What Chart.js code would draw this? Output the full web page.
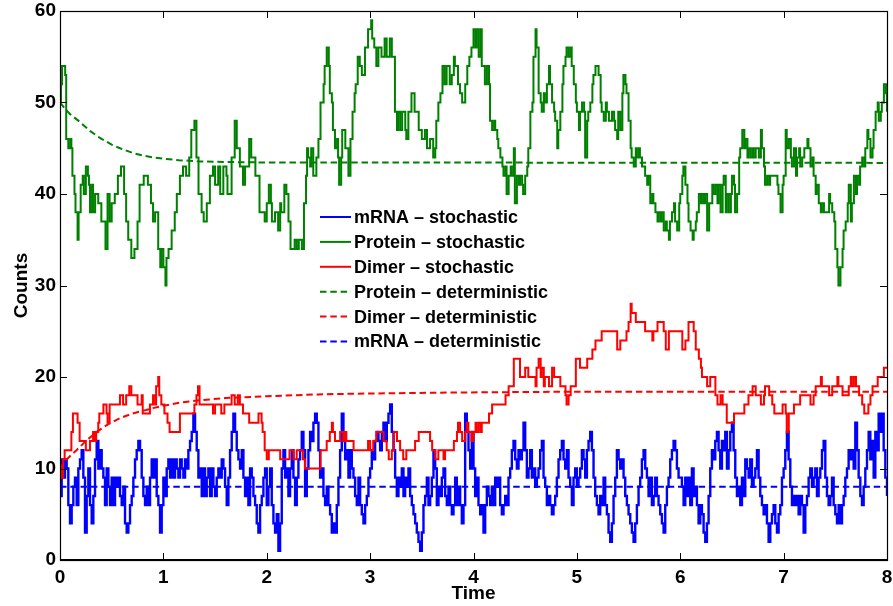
<!DOCTYPE html>
<html>
<head>
<meta charset="utf-8">
<script src="https://cdn.jsdelivr.net/npm/chart.js@4.4.1/dist/chart.umd.min.js"></script>
<style>
  html, body { margin: 0; padding: 0; background: #fff; }
</style>
</head>
<body>
<canvas id="chart" width="893" height="606"></canvas>
<script>
// axis ticks
const timeTicks = [0, 1, 2, 3, 4, 5, 6, 7, 8];
const countTicks = [0, 10, 20, 30, 40, 50, 60];

const seriesLabels = [
  "mRNA \u2013 stochastic",
  "Protein \u2013 stochastic",
  "Dimer \u2013 stochastic",
  "Protein \u2013 deterministic",
  "Dimer \u2013 deterministic",
  "mRNA \u2013 deterministic"
];

const mrnaStep = 1 / 62;
const mrnaCounts = [
  7,11,9,11,10,6,4,6,8,9, 6,10,11,12,9,3,7,10,6,4, 7,11,13,10,12,10,9,6,10,8,
  6,9,6,9,8,9,7,6,8,4, 3,4,6,7,9,11,12,13,12,9, 7,6,8,6,9,11,9,11,7,6,
  3,6,9,7,10,11,9,11,9,11, 10,9,11,10,9,11,10,12,13,14, 16,14,12,9,10,7,10,7,9,10,
  7,10,8,7,9,10,9,11,10,8, 6,9,12,14,16,14,12,11,10,12, 9,7,9,6,10,9,7,6,4,3,
  6,7,9,10,
  6,8,10,6,4,3,5,1,4,10, 12,9,10,7,10,12,9,6,9,11, 12,14,12,7,10,12,14,13,15,16,
  15,12,9,10,7,6,8,6,5,3, 4,3,6,9,12,16,13,11,12,9, 12,10,9,7,6,9,6,5,4,6,
  7,9,10,12,11,13,14,13,12,14, 15,13,15,16,17,14,12,9,7,9, 8,10,7,9,8,10,7,6,5,4,
  3,2,1,3,6,7,9,6,7,9, 12,10,6,8,7,9,10,7,6,8, 6,5,6,9,6,8,6,4,6,16,
  14,12,10,14,
  10,7,9,6,5,6,3,6,8,7, 6,8,6,9,8,9,6,5,6,7, 6,9,10,12,13,11,10,12,11,12,
  15,12,9,10,12,9,10,8,9,10, 12,13,9,8,6,7,6,5,6,7, 9,11,12,13,11,10,12,9,8,6,
  9,10,8,9,10,12,11,9,12,13, 14,12,9,7,6,5,7,6,9,6, 5,3,2,4,7,9,12,11,10,11,
  9,7,6,5,4,3,2,4,6,8, 9,11,12,10,9,7,9,6,7,9, 7,6,5,4,3,6,8,9,11,12,
  13,12,10,9,
  9,8,6,9,7,9,6,10,7,8, 6,4,6,5,3,2,4,7,10,12, 11,13,14,12,10,13,12,14,10,12,
  14,15,12,9,7,8,6,9,7,11, 10,9,11,8,9,10,12,9,7,6, 5,6,4,2,4,5,6,4,3,5,
  6,9,10,12,14,11,8,6,7,6, 7,5,7,6,3,6,7,9,10,8, 9,10,7,9,10,12,13,9,7,6,
  7,9,6,5,4,6,4,6,7,9, 10,12,11,12,10,15,12,9,7,6, 8,10,12,14,11,13,9,14,12,16,
  14,16,12,9,7
];

// Protein stochastic: [time, count] at each jump
const proteinSteps = [
  [0.00,50],[0.01,52],[0.02,54],[0.05,53],[0.06,46],[0.08,45],[0.10,46],[0.11,45],[0.12,42],[0.14,40],
  [0.15,38],[0.17,35],[0.18,38],[0.20,41],[0.22,42],[0.23,40],[0.25,43],[0.27,42],[0.28,41],[0.29,38],
  [0.31,41],[0.32,38],[0.34,40],[0.37,39],[0.40,37],[0.44,34],[0.46,40],[0.48,37],[0.50,39],[0.53,40],
  [0.56,42],[0.59,43],[0.62,40],[0.64,37],[0.66,35],[0.69,33],[0.72,34],[0.75,37],[0.77,41],[0.81,42],
  [0.85,41],[0.88,39],[0.90,37],[0.92,38],[0.95,34],[0.97,32],[0.98,34],[1.00,32],[1.02,30],[1.03,33],
  [1.05,34],[1.08,36],[1.11,38],[1.13,40],[1.16,42],[1.19,43],[1.22,42],[1.25,44],[1.27,47],[1.30,48],
  [1.32,44],[1.34,40],[1.37,38],[1.39,37],[1.42,39],[1.45,42],[1.48,43],[1.50,41],[1.53,43],[1.55,40],
  [1.58,43],[1.61,42],[1.62,40],[1.66,44],[1.69,48],[1.71,45],[1.74,43],[1.77,41],[1.79,43],[1.83,46],
  [1.85,44],[1.89,42],[1.93,38],[1.98,37],
  [2.00,39],[2.02,41],[2.04,39],[2.05,37],[2.08,38],[2.11,36],[2.13,39],[2.14,38],[2.17,41],[2.19,40],
  [2.21,37],[2.23,34],[2.27,35],[2.29,34],[2.31,35],[2.34,34],[2.36,39],[2.38,42],[2.39,45],[2.40,44],
  [2.42,43],[2.43,45],[2.45,42],[2.48,44],[2.50,46],[2.52,50],[2.55,52],[2.56,54],[2.58,56],[2.60,54],
  [2.61,51],[2.63,50],[2.64,47],[2.66,45],[2.68,46],[2.69,44],[2.70,41],[2.72,44],[2.73,47],[2.76,45],
  [2.79,42],[2.81,46],[2.83,49],[2.85,51],[2.86,52],[2.88,55],[2.90,54],[2.92,53],[2.95,56],[2.98,58],
  [3.01,59],[3.02,57],[3.04,56],[3.06,54],[3.08,56],[3.11,55],[3.14,57],[3.16,55],[3.19,57],[3.21,55],
  [3.24,49],[3.26,47],[3.27,49],[3.29,47],[3.31,49],[3.34,47],[3.35,46],[3.37,49],[3.40,51],[3.43,49],
  [3.47,47],[3.50,46],[3.53,47],[3.55,45],[3.58,46],[3.61,44],[3.63,45],[3.64,48],[3.66,50],[3.68,51],
  [3.70,54],[3.72,52],[3.74,54],[3.77,52],[3.79,53],[3.81,55],[3.82,54],[3.85,52],[3.87,51],[3.89,50],
  [3.92,52],[3.94,54],[3.96,55],[3.98,56],
  [4.00,58],[4.02,56],[4.03,58],[4.05,55],[4.07,58],[4.08,54],[4.11,52],[4.13,54],[4.15,52],[4.16,48],
  [4.18,47],[4.20,48],[4.21,47],[4.23,46],[4.24,45],[4.26,44],[4.28,43],[4.29,42],[4.31,43],[4.32,40],
  [4.34,42],[4.36,43],[4.37,42],[4.39,45],[4.40,39],[4.42,42],[4.44,41],[4.45,42],[4.47,41],[4.48,40],
  [4.50,42],[4.52,43],[4.53,45],[4.55,49],[4.57,50],[4.58,55],[4.60,58],[4.61,56],[4.63,51],[4.65,50],
  [4.66,49],[4.68,51],[4.69,50],[4.71,52],[4.73,54],[4.74,52],[4.76,50],[4.78,49],[4.79,48],[4.81,45],
  [4.82,47],[4.84,49],[4.86,52],[4.87,54],[4.89,55],[4.90,56],[4.92,55],[4.94,56],[4.95,54],[4.97,52],
  [4.99,50],[5.00,49],[5.02,47],[5.03,49],[5.05,50],[5.07,49],[5.08,44],[5.10,48],[5.11,49],[5.13,50],
  [5.15,52],[5.16,53],[5.18,54],[5.21,53],[5.23,50],[5.24,49],[5.26,48],[5.28,50],[5.29,49],[5.31,48],
  [5.34,49],[5.36,48],[5.37,47],[5.39,46],[5.40,49],[5.42,47],[5.44,51],[5.45,53],[5.47,52],[5.48,51],
  [5.50,48],[5.52,45],[5.53,44],[5.55,43],[5.57,45],[5.58,44],[5.60,45],[5.61,44],[5.63,43],[5.66,42],
  [5.68,41],[5.69,42],[5.71,39],[5.73,40],[5.74,39],[5.76,38],[5.78,37],[5.79,38],[5.81,37],[5.82,38],
  [5.84,36],[5.86,37],[5.87,36],[5.89,35],[5.90,37],[5.92,38],[5.94,39],[5.95,37],[5.97,36],[5.99,39],
  [6.00,40],[6.02,42],[6.03,43],[6.05,41],[6.07,39],[6.08,37],[6.10,36],[6.12,35],[6.13,36],[6.15,37],
  [6.16,38],[6.18,40],[6.20,39],[6.21,40],[6.23,39],[6.24,40],[6.26,36],[6.28,39],[6.31,41],[6.32,40],
  [6.34,41],[6.36,39],[6.37,41],[6.39,38],[6.41,41],[6.42,42],[6.44,38],[6.45,40],[6.47,38],[6.49,40],
  [6.50,42],[6.52,41],[6.53,38],[6.55,40],[6.57,44],[6.58,45],[6.60,47],[6.62,45],[6.63,46],[6.65,44],
  [6.66,45],[6.68,44],[6.70,45],[6.71,44],[6.73,45],[6.76,44],[6.78,47],[6.79,45],[6.81,43],[6.82,41],
  [6.84,42],[6.86,41],[6.87,42],[6.94,41],[6.95,40],[6.97,38],[6.99,41],[7.00,42],[7.02,47],[7.03,45],
  [7.05,46],[7.07,44],[7.08,43],[7.10,45],[7.12,42],[7.13,44],[7.15,45],[7.16,43],[7.18,44],[7.20,45],
  [7.23,46],[7.24,45],[7.26,43],[7.28,44],[7.29,42],[7.31,40],[7.32,41],[7.34,39],[7.36,38],[7.37,39],
  [7.39,38],[7.44,40],[7.45,39],[7.47,38],[7.49,37],[7.50,34],[7.52,32],[7.53,30],[7.55,32],[7.57,34],
  [7.58,36],[7.60,37],[7.62,39],[7.63,41],[7.65,37],[7.66,39],[7.68,42],[7.70,40],[7.71,42],[7.73,41],
  [7.74,43],[7.76,44],[7.78,43],[7.79,45],[7.81,47],[7.82,46],[7.84,44],[7.86,45],[7.87,47],[7.89,49],
  [7.91,50],[7.92,48],[7.94,49],[7.95,50],[7.97,52],[7.99,51],[8.00,49]
];

// Dimer stochastic: [time, count] at each jump
const dimerSteps = [
  [0.00,10],[0.01,9],[0.03,11],[0.045,12],[0.11,14],[0.125,16],[0.17,15],[0.19,13],[0.25,12],[0.29,13],
  [0.32,14],[0.335,13],[0.35,14],[0.37,15],[0.38,16],[0.42,17],[0.45,16],[0.46,15],[0.48,17],[0.58,18],
  [0.61,17],[0.64,18],[0.67,19],[0.69,18],[0.75,17],[0.79,18],[0.80,16],[0.87,17],[0.90,18],[0.92,17],
  [0.93,19],[0.95,20],[0.96,18],[0.98,17],[1.01,16],[1.04,15],[1.06,14],[1.16,16],[1.30,17],[1.32,18],
  [1.335,19],[1.35,17],[1.48,16],[1.50,17],[1.56,16],[1.59,17],[1.66,18],[1.69,17],[1.72,18],[1.74,17],
  [1.77,16],[1.83,15],[1.92,16],[1.95,15],[1.96,14],[1.98,12],
  [2.00,11],[2.02,12],[2.13,11],[2.22,12],[2.26,11],[2.29,12],[2.35,11],[2.37,10],[2.52,12],[2.58,13],
  [2.61,14],[2.63,15],[2.64,14],[2.66,13],[2.71,14],[2.74,13],[2.76,14],[2.77,13],[2.84,12],[2.98,13],
  [3.00,12],[3.03,13],[3.06,14],[3.13,13],[3.16,12],[3.18,11],[3.21,12],[3.23,14],[3.26,13],[3.29,12],
  [3.32,11],[3.35,12],[3.435,13],[3.47,14],[3.58,13],[3.60,12],[3.63,11],[3.66,12],[3.71,11],[3.725,12],
  [3.81,13],[3.84,14],[3.85,15],[3.87,14],[3.89,13],[3.92,14],[3.935,15],[3.95,14],[3.98,13],
  [4.00,14],[4.02,15],[4.03,14],[4.05,15],[4.07,14],[4.08,15],[4.15,16],[4.18,17],[4.31,18],[4.34,19],
  [4.39,22],[4.45,20],[4.50,21],[4.53,20],[4.60,19],[4.61,21],[4.63,22],[4.65,20],[4.66,21],[4.68,19],
  [4.69,20],[4.73,19],[4.76,21],[4.78,20],[4.84,19],[4.89,18],[4.90,17],[4.92,18],[4.94,19],[4.99,22],
  [5.03,21],[5.10,22],[5.15,23],[5.18,24],[5.24,25],[5.39,23],[5.42,24],[5.48,25],[5.50,26],[5.52,28],
  [5.53,27],[5.57,26],[5.66,25],[5.73,24],[5.74,25],[5.78,26],[5.84,25],[5.86,23],[5.89,25],
  [6.02,23],[6.05,24],[6.08,26],[6.13,25],[6.15,23],[6.18,22],[6.20,21],[6.21,20],[6.26,19],[6.29,20],
  [6.34,18],[6.36,17],[6.39,18],[6.41,17],[6.45,15],[6.52,16],[6.62,17],[6.66,18],[6.70,19],[6.73,18],
  [6.78,17],[6.81,18],[6.82,19],[6.86,18],[6.89,17],[6.91,16],[6.99,17],[7.02,16],[7.03,14],[7.05,16],
  [7.10,17],[7.16,18],[7.26,17],[7.29,18],[7.31,19],[7.36,20],[7.37,19],[7.44,18],[7.47,19],[7.52,20],
  [7.53,19],[7.57,18],[7.63,19],[7.65,20],[7.66,19],[7.68,20],[7.70,19],[7.73,18],[7.76,17],[7.78,16],
  [7.82,17],[7.84,18],[7.86,19],[7.91,20],[7.97,21],[8.00,21]
];

// deterministic solutions, sampled
const proteinDetTimes  = [0, 0.05, 0.10, 0.19, 0.29, 0.39, 0.50, 0.58, 0.70, 0.80, 0.90, 1.00, 1.15, 1.35, 1.60, 1.93, 8];
const proteinDetCounts = [50, 49.3, 48.7, 47.9, 46.9, 46.1, 45.4, 45.0, 44.5, 44.2, 44.0, 43.85, 43.7, 43.56, 43.5, 43.45, 43.4];
const dimerDetTimes  = [0, 0.05, 0.10, 0.16, 0.25, 0.355, 0.46, 0.58, 0.70, 0.80, 0.90, 1.00, 1.16, 1.35, 1.60, 2.00, 2.50, 3.00, 3.80, 5.00, 8];
const dimerDetCounts = [10, 10.8, 11.4, 12.0, 13.0, 14.0, 14.8, 15.5, 16.0, 16.3, 16.6, 16.85, 17.2, 17.45, 17.7, 17.9, 18.1, 18.2, 18.3, 18.4, 18.4];
const mrnaDetTimes  = [0, 8];
const mrnaDetCounts = [8, 8];

const BLUE = "#0000ff", GREEN = "#008000", RED = "#ff0000";
const DASH = [6.5, 3.8];
const FONT = '"Liberation Sans", Arial, Helvetica, sans-serif';

const pairs = (ts, vs) => ts.map((t, i) => ({ x: t, y: vs[i] }));
const steps = (list) => list.map(([t, v]) => ({ x: t, y: v }));

const mrnaData = mrnaCounts.map((v, i) => ({ x: i * mrnaStep, y: v }));

// box + inward ticks on all four sides, legend inside the axes
const framePlugin = {
  id: "frame",
  afterDatasetsDraw(chart) {
    const { ctx, chartArea: a, scales } = chart;
    const len = 7;
    ctx.save();
    ctx.strokeStyle = "#000";
    ctx.lineWidth = 1;
    ctx.beginPath();
    scales.x.ticks.forEach((t) => {
      const px = Math.round(scales.x.getPixelForValue(t.value)) + 0.5;
      ctx.moveTo(px, a.bottom); ctx.lineTo(px, a.bottom - len);
      ctx.moveTo(px, a.top); ctx.lineTo(px, a.top + len);
    });
    scales.y.ticks.forEach((t) => {
      const py = Math.round(scales.y.getPixelForValue(t.value)) + 0.5;
      ctx.moveTo(a.left, py); ctx.lineTo(a.left + len, py);
      ctx.moveTo(a.right, py); ctx.lineTo(a.right - len, py);
    });
    ctx.stroke();
    ctx.lineWidth = 1.2;
    ctx.strokeRect(Math.round(a.left) + 0.5, Math.round(a.top) + 0.5,
                   Math.round(a.right - a.left), Math.round(a.bottom - a.top));
    ctx.lineWidth = 2;
    ctx.beginPath();
    ctx.moveTo(a.left, a.bottom); ctx.lineTo(a.right + 1, a.bottom);
    ctx.stroke();
    ctx.restore();
  },
  afterDraw(chart) {
    const ctx = chart.ctx;
    const x0 = 320, y0 = 217, rowH = 24.9;
    ctx.save();
    ctx.font = "bold 18px " + FONT;
    ctx.textBaseline = "middle";
    ctx.textAlign = "left";
    chart.data.datasets.forEach((ds, i) => {
      const y = y0 + i * rowH;
      ctx.strokeStyle = ds.borderColor;
      ctx.lineWidth = 2;
      ctx.setLineDash(ds.borderDash || []);
      ctx.beginPath();
      ctx.moveTo(x0, y); ctx.lineTo(x0 + 31, y);
      ctx.stroke();
      ctx.setLineDash([]);
      ctx.fillStyle = "#000";
      ctx.fillText(ds.label, x0 + 34, y + 1);
    });
    ctx.restore();
  }
};

const lineStyle = (label, color, data, dashed, stepped, width) => ({
  label,
  data,
  borderColor: color,
  backgroundColor: color,
  borderWidth: width || 2,
  borderDash: dashed ? DASH : [],
  stepped: stepped ? "before" : false,
  pointRadius: 0,
  fill: false
});

const datasets = [
  lineStyle(seriesLabels[0], BLUE, mrnaData, false, true, 2.4),
  lineStyle(seriesLabels[1], GREEN, steps(proteinSteps), false, true),
  lineStyle(seriesLabels[2], RED, steps(dimerSteps), false, true),
  lineStyle(seriesLabels[3], GREEN, pairs(proteinDetTimes, proteinDetCounts), true, false),
  lineStyle(seriesLabels[4], RED, pairs(dimerDetTimes, dimerDetCounts), true, false),
  lineStyle(seriesLabels[5], BLUE, pairs(mrnaDetTimes, mrnaDetCounts), true, false)
];
// later series drawn on top, as in the original plot
datasets.forEach((d, i) => { d.order = datasets.length - i; });

const tickFont = { family: FONT, size: 19, weight: "bold" };

new Chart(document.getElementById("chart"), {
  type: "line",
  data: { datasets },
  options: {
    responsive: false,
    animation: false,
    parsing: false,
    normalized: true,
    layout: { padding: { top: 11, right: 6, left: 0, bottom: 0 } },
    plugins: { legend: { display: false }, tooltip: { enabled: false } },
    scales: {
      x: {
        type: "linear",
        min: 0, max: 8,
        grid: { display: false, drawTicks: false },
        border: { display: false },
        afterBuildTicks: (s) => { s.ticks = timeTicks.map((v) => ({ value: v })); },
        afterFit: (s) => { s.height = 46; s.paddingLeft = 0; s.paddingRight = 0; },
        ticks: { color: "#000", padding: 6, maxRotation: 0, font: tickFont },
        title: { display: true, text: "Time", color: "#000", padding: { top: 0, bottom: 1 }, font: tickFont }
      },
      y: {
        type: "linear",
        min: 0, max: 60,
        grid: { display: false, drawTicks: false },
        border: { display: false },
        afterBuildTicks: (s) => { s.ticks = countTicks.map((v) => ({ value: v })); },
        afterFit: (s) => { s.width = 60; s.paddingTop = 0; s.paddingBottom = 0; },
        ticks: { color: "#000", padding: 4, font: tickFont },
        title: { display: true, text: "Counts", color: "#000", padding: { top: 10, bottom: 0 }, font: tickFont }
      }
    }
  },
  plugins: [framePlugin]
});
</script>
</body>
</html>
